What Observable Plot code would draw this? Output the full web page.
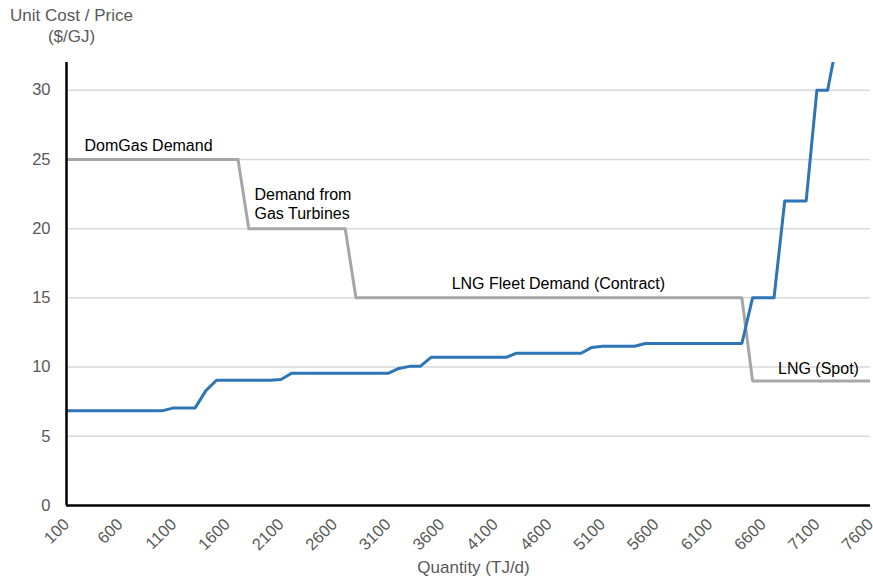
<!DOCTYPE html>
<html><head><meta charset="utf-8">
<script src="https://cdn.jsdelivr.net/npm/d3@7"></script>
<script src="https://cdn.jsdelivr.net/npm/@observablehq/plot@0.6"></script>
<style>
html,body{margin:0;padding:0;background:#fff;}
#chart{width:873px;height:579px;}
</style></head><body><div id="chart"></div>
<script>
// Tick labels
const xTicks = [100, 600, 1100, 1600, 2100, 2600, 3100, 3600, 4100, 4600, 5100, 5600, 6100, 6600, 7100, 7600];
const yTicks = [0, 5, 10, 15, 20, 25, 30];

// Supply (unit cost) curve – breakpoints
const supplyQuantity = [100, 1000, 1100, 1300, 1400, 1500, 2000, 2100, 2200, 3100, 3200, 3300, 3400, 3500, 4200, 4300, 4900, 5000, 5100, 5400, 5500, 6400, 6500, 6700, 6800, 7000, 7100, 7200, 7300];
const supplyCost     = [6.85, 6.85, 7.05, 7.05, 8.3, 9.05, 9.05, 9.1, 9.55, 9.55, 9.9, 10.05, 10.05, 10.7, 10.7, 11.0, 11.0, 11.42, 11.5, 11.5, 11.7, 11.7, 15, 15, 22, 22, 30, 30, 34];

// Demand (price) curve
const demandQuantity = [100, 1700, 1800, 2700, 2800, 6400, 6500, 7600];
const demandPrice    = [25, 25, 20, 20, 15, 15, 9, 9];

// Annotations
const labelText     = ["DomGas Demand", "Demand from\nGas Turbines", "LNG Fleet Demand (Contract)", "LNG (Spot)"];
const labelQuantity = [268, 1854, 3693, 6737];
const labelPrice    = [25.6, 20.7, 15.63, 9.5];

const supply = supplyQuantity.map((q, i) => ({q, v: supplyCost[i]}));
const demand = demandQuantity.map((q, i) => ({q, v: demandPrice[i]}));
const labels = labelText.map((t, i) => ({t, q: labelQuantity[i], v: labelPrice[i]}));

const chart = Plot.plot({
  width: 873,
  height: 579,
  marginLeft: 66,
  marginRight: 3,
  marginTop: 62,
  marginBottom: 74,
  style: {fontFamily: "'Liberation Sans', Arial, sans-serif", fontSize: "16px", color: "#595959", background: "#fff"},
  x: {type: "linear", domain: [100, 7600]},
  y: {type: "linear", domain: [0, 32]},
  marks: [
    Plot.gridY(yTicks, {stroke: "#d9d9d9", strokeOpacity: 1, strokeWidth: 1.5}),
    Plot.axisY(yTicks, {tickSize: 0, tickPadding: 16, label: null, fill: "#595959", fontSize: 16.5}),
    Plot.axisX(xTicks, {tickSize: 0, tickPadding: 16, tickRotate: -45, dx: 0, label: null, tickFormat: d => String(d), fill: "#595959", fontSize: 16.5}),
    Plot.line(demand, {x: "q", y: "v", stroke: "#a6a6a6", strokeWidth: 3, strokeLinejoin: "round", clip: true}),
    Plot.line(supply, {x: "q", y: "v", stroke: "#2e75b6", strokeWidth: 3, strokeLinejoin: "round", clip: true}),
    Plot.ruleX([100], {stroke: "#000", strokeWidth: 2.5}),
    Plot.ruleY([0], {stroke: "#000", strokeWidth: 2.5}),
    Plot.text(labels, {x: "q", y: "v", text: "t", textAnchor: "start", lineAnchor: "bottom", lineHeight: 1.2, fill: "#000", fontSize: 16}),
    Plot.text(["Quantity (TJ/d)"], {frameAnchor: "bottom", dx: 5, dy: 67, lineAnchor: "bottom", fill: "#595959", fontSize: 17}),
    Plot.text(["Unit Cost / Price\n($/GJ)"], {frameAnchor: "top-left", dx: 5, dy: -21, lineAnchor: "bottom", textAnchor: "middle", lineHeight: 1.18, fill: "#595959", fontSize: 17})
  ]
});
document.getElementById("chart").appendChild(chart);
</script>
</body></html>
